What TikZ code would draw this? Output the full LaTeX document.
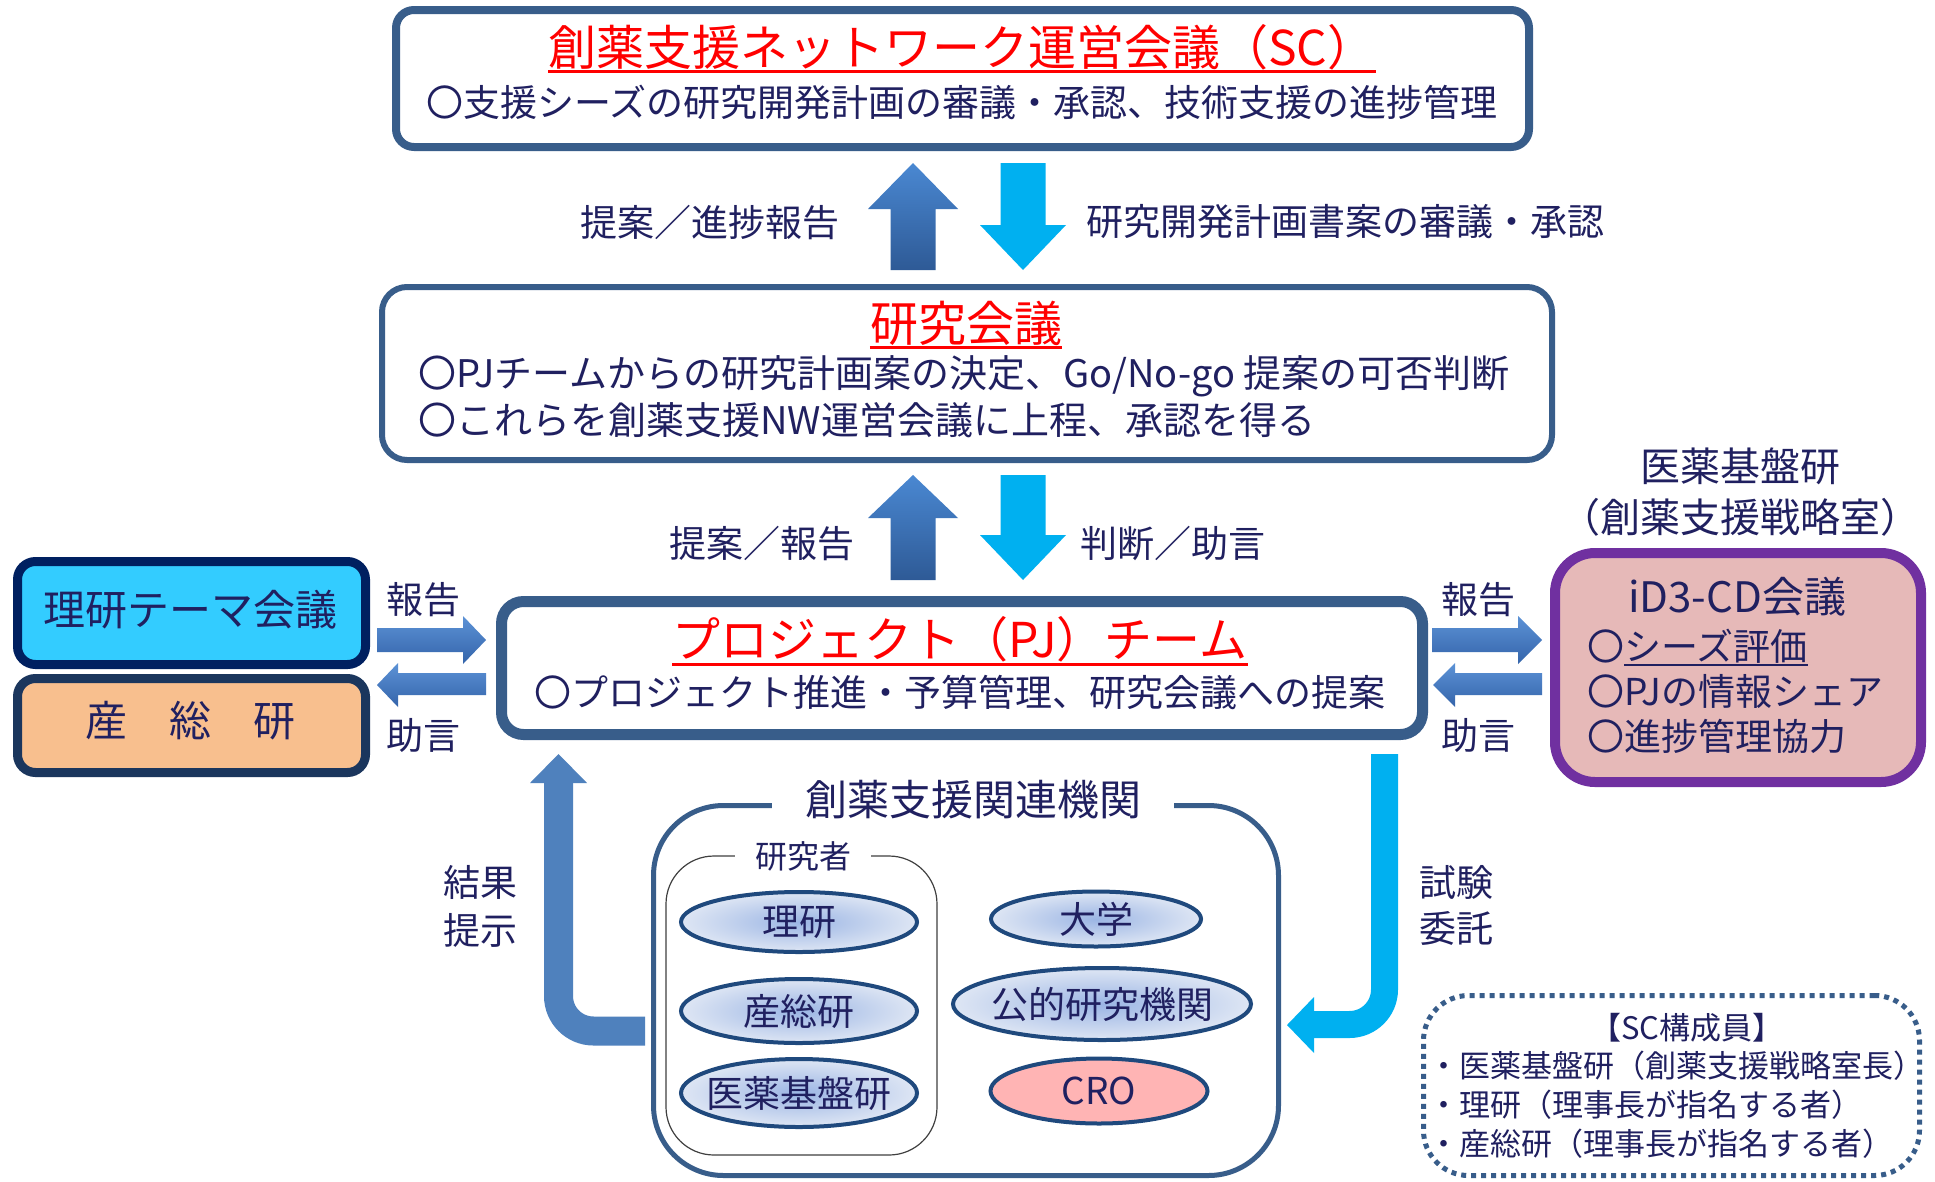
\documentclass[tikz,border=0pt]{standalone}
\usepackage{fontspec}
\setmainfont{Noto Sans CJK JP}
\usetikzlibrary{shapes.geometric}
\definecolor{boxline}{RGB}{56,93,138}
\definecolor{navy}{RGB}{32,32,96}
\definecolor{cyanarrow}{RGB}{0,176,240}
\definecolor{bluearrow}{RGB}{79,129,189}
\definecolor{uptop}{RGB}{74,136,210}
\definecolor{upbot}{RGB}{46,90,150}
\definecolor{hztop}{RGB}{92,146,214}
\definecolor{hzbot}{RGB}{52,100,170}
\definecolor{rikenfill}{RGB}{51,204,255}
\definecolor{rikenline}{RGB}{0,32,96}
\definecolor{aistfill}{RGB}{248,191,142}
\definecolor{aistline}{RGB}{27,54,93}
\definecolor{purpleline}{RGB}{112,48,160}
\definecolor{purplefill}{RGB}{230,185,184}
\definecolor{ellline}{RGB}{31,73,125}
\definecolor{ellin}{RGB}{155,181,228}
\definecolor{ellout}{RGB}{222,230,244}
\definecolor{crofill}{RGB}{255,180,180}
\newcommand{\fsz}[1]{\fontsize{#1}{#1}\selectfont}
\newcommand{\zw}[1]{\makebox[0pt]{#1}}
\begin{document}
\begin{tikzpicture}[x=1pt,y=-1pt,
  every node/.style={inner sep=0pt, text=navy},
  f48/.style={font=\fsz{48}},
  f42/.style={font=\fsz{42}},
  f40/.style={font=\fsz{40}},
  f38/.style={font=\fsz{38}},
  f37/.style={font=\fsz{37}},
  f32/.style={font=\fsz{32}},
  f31/.style={font=\fsz{31}},
  redtitle/.style={f48, text=red},
  mainbox/.style={draw=boxline},
  ellbase/.style={ellipse, draw=ellline, line width=4, f37},
  ell/.style={ellbase, inner color=ellin, outer color=ellout},
  upshade/.style={top color=uptop, bottom color=upbot},
  hzshade/.style={top color=hztop, bottom color=hzbot}
]
\useasboundingbox[fill=white] (0,0) rectangle (1935,1181);

% ---------- boxes ----------
\node[mainbox, line width=8, rounded corners=18, minimum width=1133, minimum height=137] (sc) at (962.5,78.5) {};
\node[mainbox, line width=6, rounded corners=25, minimum width=1170, minimum height=173] (rk) at (967,373.5) {};
\node[mainbox, line width=11, rounded corners=22, minimum width=921, minimum height=133] (pj) at (962,668) {};
\node[draw=rikenline, fill=rikenfill, line width=9, rounded corners=18, minimum width=348, minimum height=103] (rt) at (191.5,613) {};
\node[draw=aistline, fill=aistfill, line width=9, rounded corners=18, minimum width=348, minimum height=94] (ai) at (191.5,725.5) {};
\node[draw=purpleline, fill=purplefill, line width=10, rounded corners=40, minimum width=366, minimum height=229] (id) at (1738,667.5) {};

% ---------- SC texts ----------
\node[redtitle] (sct) at (962,47) {創薬支援ネットワーク運営会議（SC）};
\draw[red, line width=3] ([yshift=-6pt]sct.base west) -- ([yshift=-6pt]sct.base east);
\node[f37] (scs) at (962,102) {〇支援シーズの研究開発計画の審議・承認、技術支援の進捗管理};

% ---------- top arrows ----------
\shade[upshade] (890.5,270) -- (890.5,209) -- (868,209) -- (913,163) -- (958,209) -- (935.5,209) -- (935.5,270) -- cycle;
\fill[cyanarrow] (1000.5,163) -- (1045.5,163) -- (1045.5,225) -- (1066,225) -- (1023,270) -- (980,225) -- (1000.5,225) -- cycle;
\node[f37, anchor=east] (l1) at (840,222) {提案／進捗報告};
\node[f37, anchor=west] (l2) at (1086,222) {研究開発計画書案の審議・承認};

% ---------- research meeting texts ----------
\node[redtitle] (rkt) at (966,323) {研究会議};
\draw[red, line width=3] ([yshift=-6pt]rkt.base west) -- ([yshift=-6pt]rkt.base east);
\node[f38, anchor=west] (rk1) at (418,376) {〇PJチームからの研究計画案の決定、Go/No-go 提案の可否判断};
\node[f38, anchor=west] (rk2) at (418,420) {〇これらを創薬支援NW運営会議に上程、承認を得る};

% ---------- middle arrows ----------
\shade[upshade] (890.5,580) -- (890.5,518) -- (868,518) -- (913,475) -- (958,518) -- (935.5,518) -- (935.5,580) -- cycle;
\fill[cyanarrow] (1000.5,475) -- (1045.5,475) -- (1045.5,535) -- (1066,535) -- (1023,580) -- (980,535) -- (1000.5,535) -- cycle;
\node[f37, anchor=east] (l3) at (855,543) {提案／報告};
\node[f37, anchor=west] (l4) at (1080,543) {判断／助言};

% ---------- PJ texts ----------
\node[redtitle] (pjt) at (960,639) {プロジェクト（PJ）チーム};
\draw[red, line width=3] ([yshift=-7pt]pjt.base west) -- ([yshift=-7pt]pjt.base east);
\node[f37] (pjs) at (960,692) {〇プロジェクト推進・予算管理、研究会議への提案};

% ---------- left boxes ----------
\node[f42] (rtt) at (190,610) {理研テーマ会議};
\node[f42] (ait) at (190,721) {産　総　研};
\shade[hzshade] (377,628) -- (463,628) -- (463,616) -- (486,640) -- (463,664) -- (463,652) -- (377,652) -- cycle;
\shade[hzshade] (486,673) -- (398,673) -- (398,663) -- (377,685) -- (398,707) -- (398,695) -- (486,695) -- cycle;
\node[f37] (l5) at (423,600) {報告};
\node[f37] (l6) at (423,735) {助言};

% ---------- right side ----------
\node[f40] (iy1) at (1740,466) {医薬基盤研};
\node[f40] (iy2) at (1740,517) {（創薬支援戦略室）};
\node[f42] (idt) at (1737,597) {iD3-CD会議};
\node[f37, anchor=west] (id1a) at (1587,646) {〇};
\node[f37, anchor=base west] (id1b) at (id1a.base east) {シーズ評価};
\draw[navy, line width=2.5] ([yshift=-5pt]id1b.base west) -- ([yshift=-5pt]id1b.base east);
\node[f37, anchor=west] (id2) at (1587,691) {〇PJの情報シェア};
\node[f37, anchor=west] (id3) at (1587,736) {〇進捗管理協力};
\shade[hzshade] (1432,628) -- (1518,628) -- (1518,616) -- (1542,640) -- (1518,664) -- (1518,652) -- (1432,652) -- cycle;
\shade[hzshade] (1542,673) -- (1455,673) -- (1455,663) -- (1433,685) -- (1455,707) -- (1455,695) -- (1542,695) -- cycle;
\node[f37] (l7) at (1478,600) {報告};
\node[f37] (l8) at (1478,735) {助言};

% ---------- bent arrows ----------
\draw[bluearrow, line width=29, rounded corners=35] (558.5,782) -- (558.5,1031) -- (645,1031);
\fill[bluearrow] (530,783) -- (558.5,754) -- (587,783) -- cycle;
\node[f37] (l9) at (480,882) {結果};
\node[f37] (l10) at (480,930) {提示};

\draw[cyanarrow, line width=27, rounded corners=35] (1384.5,754) -- (1384.5,1024.5) -- (1312,1024.5);
\fill[cyanarrow] (1314,997) -- (1287,1025) -- (1314,1053) -- cycle;
\node[f37] (l11) at (1456,882) {試験};
\node[f37] (l12) at (1456,928) {委託};

% ---------- related institutions ----------
\node[mainbox, line width=5, rounded corners=70, minimum width=625, minimum height=370] (kk) at (966,990.5) {};
\node[f42, fill=white, inner xsep=33, inner ysep=2] (kkt) at (973,800) {創薬支援関連機関};
\node[draw=black!75, line width=1.2, rounded corners=48, minimum width=271, minimum height=299] (ks) at (801.5,1005.5) {};
\node[f32, fill=white, inner xsep=20, inner ysep=1] (kst) at (803,856) {研究者};

\node[ell, minimum width=236, minimum height=60] (e1) at (799,922) {\zw{理研}};
\node[ell, minimum width=236, minimum height=64] (e2) at (799,1011) {\zw{産総研}};
\node[ell, minimum width=236, minimum height=68] (e3) at (799,1093) {\zw{医薬基盤研}};
\node[ell, minimum width=210, minimum height=55] (e4) at (1096,919) {\zw{大学}};
\node[ell, minimum width=298, minimum height=72] (e5) at (1102,1004) {\zw{公的研究機関}};
\node[ellbase, fill=crofill, minimum width=217, minimum height=65] (e6) at (1099,1091) {\zw{CRO}};

% ---------- SC members ----------
\node[draw=boxline, line width=5, dash pattern=on 5pt off 5pt, rounded corners=45, minimum width=496, minimum height=180] (scm) at (1671.5,1085.5) {};
\node[f31] (sm0) at (1687,1028) {【SC構成員】};
\node[f31, anchor=west] (sm1) at (1428,1066) {・医薬基盤研（創薬支援戦略室長）};
\node[f31, anchor=west] (sm2) at (1428,1105) {・理研（理事長が指名する者）};
\node[f31, anchor=west] (sm3) at (1428,1144) {・産総研（理事長が指名する者）};
\end{tikzpicture}
\end{document}
